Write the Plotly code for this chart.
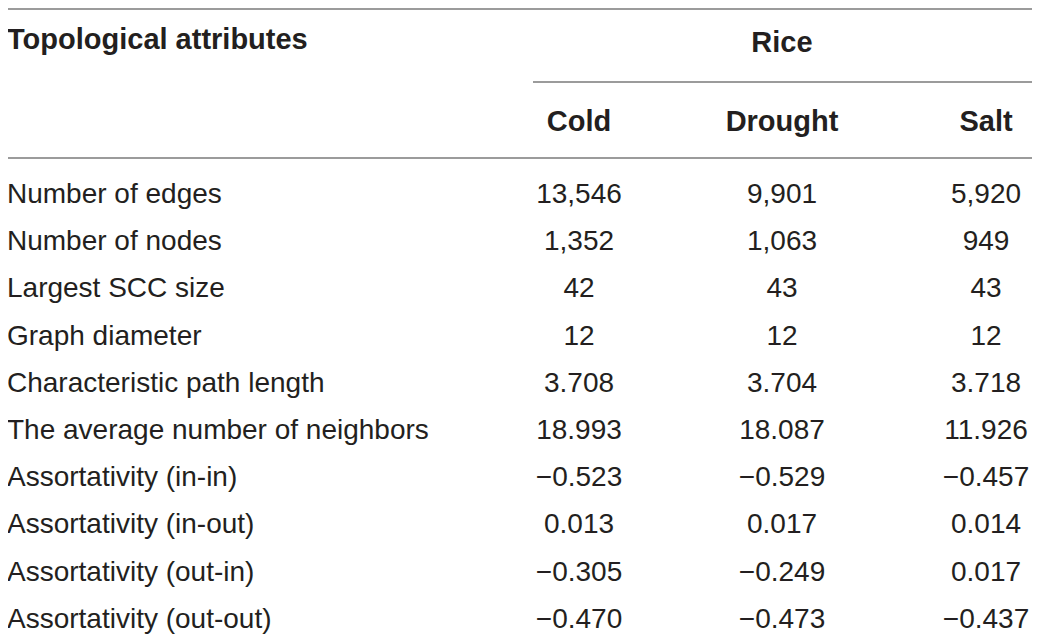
import plotly.graph_objects as go

# table content
attributes = [
    "Number of edges",
    "Number of nodes",
    "Largest SCC size",
    "Graph diameter",
    "Characteristic path length",
    "The average number of neighbors",
    "Assortativity (in-in)",
    "Assortativity (in-out)",
    "Assortativity (out-in)",
    "Assortativity (out-out)",
]
conditions = ["Cold", "Drought", "Salt"]
cold = [13546, 1352, 42, 12, 3.708, 18.993, -0.523, 0.013, -0.305, -0.470]
drought = [9901, 1063, 43, 12, 3.704, 18.087, -0.529, 0.017, -0.249, -0.473]
salt = [5920, 949, 43, 12, 3.718, 11.926, -0.457, 0.014, 0.017, -0.437]
group_label = "Rice"
first_header = "Topological attributes"


def fmt(v):
    if isinstance(v, int):
        s = f"{v:,}"
    else:
        s = f"{v:.3f}"
    return s.replace("-", "\u2212")


W, H = 1040, 641
OFF = 8  # page body margin; axis ranges start here so data coords = page pixels
FONT = "Liberation Sans, Arial, Helvetica, sans-serif"
INK = "#231f20"
RULE = "#7a7a7a"
FS = 28
FSB = 29

col_x = [579, 782, 986]
label_x = 7
row0, row_step = 196, 47.2
row_y = [row0 + i * row_step for i in range(len(attributes))]

fig = go.Figure()

# attribute names
fig.add_trace(go.Scatter(
    x=[label_x] * len(attributes), y=row_y, text=attributes,
    mode="text", textposition="middle right",
    textfont=dict(family=FONT, size=FS, color=INK), hoverinfo="skip"))

# value columns
for cx, vals in zip(col_x, [cold, drought, salt]):
    fig.add_trace(go.Scatter(
        x=[cx] * len(vals), y=row_y, text=[fmt(v) for v in vals],
        mode="text", textposition="middle center",
        textfont=dict(family=FONT, size=FS, color=INK), hoverinfo="skip"))

# headers
bold = dict(family=FONT, size=FSB, color=INK)
fig.add_trace(go.Scatter(
    x=[label_x], y=[42], text=[f"<b>{first_header}</b>"],
    mode="text", textposition="middle right", textfont=bold, hoverinfo="skip"))
fig.add_trace(go.Scatter(
    x=[col_x[1]], y=[45], text=[f"<b>{group_label}</b>"],
    mode="text", textposition="middle center", textfont=bold, hoverinfo="skip"))
fig.add_trace(go.Scatter(
    x=col_x, y=[124] * 3, text=[f"<b>{c}</b>" for c in conditions],
    mode="text", textposition="middle center", textfont=bold, hoverinfo="skip"))

# rules
rules = [(0, 1036, 9), (533, 1036, 82), (0, 1036, 158)]
for x0, x1, y in rules:
    fig.add_shape(type="line", x0=x0, x1=x1, y0=y, y1=y,
                  xref="x", yref="y", line=dict(color=RULE, width=1.5))

fig.update_layout(
    width=W, height=H,
    margin=dict(l=0, r=0, t=0, b=0),
    paper_bgcolor="white", plot_bgcolor="white",
    showlegend=False,
    xaxis=dict(range=[OFF, W + OFF], visible=False, fixedrange=True),
    yaxis=dict(range=[H + OFF, OFF], visible=False, fixedrange=True),
)

fig.write_html("out.html")
